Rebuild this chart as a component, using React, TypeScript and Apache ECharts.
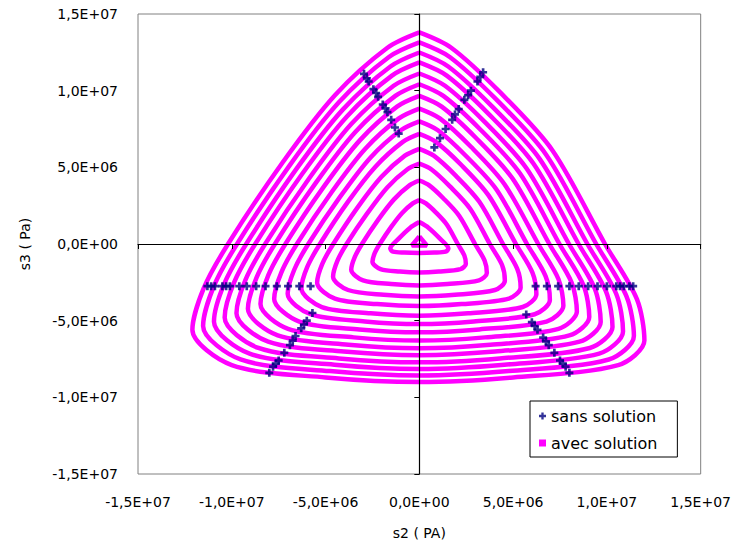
import React, { useEffect, useRef } from "react";
import * as echarts from "echarts";

// values are in units of 1e6 Pa
const UNIT = 1e6;
const AXIS_MIN = -15;
const AXIS_MAX = 15;
const AXIS_STEP = 5;

const MAGENTA = "#ff00ff";
const NAVY = "#000080";
const FONT = "DejaVu Sans";
const PLUS = "path://M3,0H6V3H9V6H6V9H3V6H0V3H3Z";

// "avec solution" contours (s2, s3), innermost first
const ring0 = [[0, 0.5], [0.4, -0.1], [-0.4, -0.1], [0, 0.5]];
const ring1 = [[0, 1.43], [0.5, 1.05], [1.1, 0.35], [1.55, -0.3], [1.4, -0.5], [0.8, -0.56], [0, -0.58], [-0.8, -0.56], [-1.4, -0.5], [-1.55, -0.3], [-1.1, 0.35], [-0.5, 1.05], [0, 1.43]];
const ring2 = [[0, 2.86], [0.35, 2.65], [0.89, 2.05], [1.47, 1.26], [2.05, 0], [2.4, -0.75], [2.48, -1.3], [2.19, -1.64], [1.04, -1.8], [0, -1.86], [-1.04, -1.8], [-2.07, -1.64], [-2.5, -1.16], [-2.38, -0.6], [-2.11, 0], [-1.51, 1.1], [-0.93, 2.01], [-0.35, 2.65], [0, 2.86]];
const ring3 = [[0, 4.14], [0.51, 3.84], [1.29, 2.97], [2.13, 1.83], [2.97, 0], [3.48, -1.08], [3.6, -1.89], [3.18, -2.37], [1.5, -2.61], [0, -2.7], [-1.5, -2.61], [-3.0, -2.37], [-3.63, -1.68], [-3.45, -0.87], [-3.06, 0], [-2.19, 1.59], [-1.35, 2.91], [-0.51, 3.84], [0, 4.14]];
const ring4 = [[0, 5.24], [0.65, 4.86], [1.63, 3.76], [2.7, 2.32], [3.76, 0], [4.41, -1.37], [4.56, -2.39], [4.03, -3.0], [1.9, -3.31], [0, -3.42], [-1.9, -3.31], [-3.8, -3.0], [-4.6, -2.13], [-4.37, -1.1], [-3.88, 0], [-2.77, 2.01], [-1.71, 3.69], [-0.65, 4.86], [0, 5.24]];
const ring5 = [[0, 6.21], [0.77, 5.76], [1.94, 4.46], [3.2, 2.75], [4.46, 0], [5.22, -1.62], [5.4, -2.84], [4.77, -3.56], [2.25, -3.92], [0, -4.05], [-2.25, -3.92], [-4.5, -3.56], [-5.45, -2.52], [-5.18, -1.31], [-4.59, 0], [-3.29, 2.39], [-2.03, 4.37], [-0.77, 5.76], [0, 6.21]];
const ring6 = [[0, 7.18], [0.88, 6.66], [2.24, 5.15], [3.69, 3.17], [5.15, 0], [6.03, -1.87], [6.24, -3.28], [5.51, -4.11], [2.6, -4.52], [0, -4.68], [-2.6, -4.52], [-5.2, -4.11], [-6.29, -2.91], [-5.98, -1.51], [-5.3, 0], [-3.8, 2.76], [-2.34, 5.04], [-0.88, 6.66], [0, 7.18]];
const ring7 = [[0, 8.0], [0.99, 7.42], [2.49, 5.74], [4.12, 3.54], [5.74, 0], [6.73, -2.09], [6.96, -3.65], [6.15, -4.58], [2.9, -5.05], [0, -5.22], [-2.9, -5.05], [-5.8, -4.58], [-7.02, -3.25], [-6.67, -1.68], [-5.92, 0], [-4.23, 3.07], [-2.61, 5.63], [-0.99, 7.42], [0, 8.0]];
const ring8 = [[0, 8.83], [1.09, 8.19], [2.75, 6.34], [4.54, 3.9], [6.34, 0], [7.42, -2.3], [7.68, -4.03], [6.78, -5.06], [3.2, -5.57], [0, -5.76], [-3.2, -5.57], [-6.4, -5.06], [-7.74, -3.58], [-7.36, -1.86], [-6.53, 0], [-4.67, 3.39], [-2.88, 6.21], [-1.09, 8.19], [0, 8.83]];
const ring9 = [[0, 9.66], [1.19, 8.96], [3.01, 6.93], [4.97, 4.27], [6.93, 0], [8.12, -2.52], [8.4, -4.41], [7.42, -5.53], [3.5, -6.09], [0, -6.3], [-3.5, -6.09], [-7.0, -5.53], [-8.47, -3.92], [-8.05, -2.03], [-7.14, 0], [-5.11, 3.71], [-3.15, 6.79], [-1.19, 8.96], [0, 9.66]];
const ring10 = [[0, 10.42], [1.28, 9.66], [3.25, 7.47], [5.36, 4.61], [7.47, 0], [8.76, -2.72], [9.06, -4.76], [8.0, -5.96], [3.78, -6.57], [0, -6.8], [-3.78, -6.57], [-7.55, -5.96], [-9.14, -4.23], [-8.68, -2.19], [-7.7, 0], [-5.51, 4.0], [-3.4, 7.32], [-1.28, 9.66], [0, 10.42]];
const ring11 = [[0, 11.12], [1.37, 10.32], [3.47, 7.98], [5.72, 4.92], [7.98, 0], [9.35, -2.9], [9.67, -5.08], [8.54, -6.37], [4.03, -7.01], [0, -7.25], [-4.03, -7.01], [-8.06, -6.37], [-9.75, -4.51], [-9.27, -2.34], [-8.22, 0], [-5.88, 4.27], [-3.63, 7.82], [-1.37, 10.32], [0, 11.12]];
const ring12 = [[0, 11.84], [1.46, 10.98], [3.69, 8.49], [6.09, 5.23], [8.49, 0], [9.95, -3.09], [10.3, -5.41], [9.09, -6.78], [4.29, -7.46], [0, -7.72], [-4.29, -7.46], [-8.58, -6.78], [-10.38, -4.8], [-9.87, -2.49], [-8.75, 0], [-6.26, 4.55], [-3.86, 8.32], [-1.46, 10.98], [0, 11.84]];
const ring13 = [[0, 12.49], [1.54, 11.58], [3.89, 8.96], [6.43, 5.52], [8.96, 0], [10.5, -3.26], [10.86, -5.7], [9.59, -7.15], [4.53, -7.87], [0, -8.15], [-4.53, -7.87], [-9.05, -7.15], [-10.95, -5.07], [-10.41, -2.62], [-9.23, 0], [-6.61, 4.8], [-4.07, 8.78], [-1.54, 11.58], [0, 12.49]];
const ring14 = [[0, 13.15], [1.62, 12.2], [4.1, 9.43], [6.77, 5.81], [9.43, 0], [11.05, -3.43], [11.44, -6.0], [10.1, -7.53], [4.77, -8.29], [0, -8.58], [-4.77, -8.29], [-9.53, -7.53], [-11.53, -5.34], [-10.96, -2.76], [-9.72, 0], [-6.96, 5.05], [-4.29, 9.24], [-1.62, 12.2], [0, 13.15]];
const ring15 = [[0, 13.8], [1.7, 12.8], [4.3, 9.9], [7.1, 6.1], [9.9, 0], [11.6, -3.6], [12.0, -6.3], [10.6, -7.9], [5.0, -8.7], [0, -9.0], [-5.0, -8.7], [-10.0, -7.9], [-12.1, -5.6], [-11.5, -2.9], [-10.2, 0], [-7.3, 5.3], [-4.5, 9.7], [-1.7, 12.8], [0, 13.8]];

const avecRings = [ring0, ring1, ring2, ring3, ring4, ring5, ring6, ring7, ring8, ring9, ring10, ring11, ring12, ring13, ring14, ring15];

// "sans solution" points (s2, s3)
const sansTopLeft = [[-2.95, 11.1], [-2.8, 10.8], [-2.7, 10.6], [-2.45, 10.1], [-2.3, 9.85], [-2.2, 9.6], [-1.95, 9.1], [-1.8, 8.85], [-1.7, 8.6], [-1.5, 8.1], [-1.3, 7.6], [-1.1, 7.2]];
const sansTopRight = [[3.4, 11.2], [3.25, 10.9], [3.1, 10.6], [2.75, 10.0], [2.6, 9.7], [2.4, 9.4], [2.1, 8.8], [1.9, 8.45], [1.75, 8.1], [1.4, 7.5], [1.1, 6.9], [0.8, 6.3]];
const sansLeft = [[-11.3, -2.75], [-11.1, -2.75], [-10.9, -2.75], [-10.5, -2.75], [-10.3, -2.75], [-10.1, -2.75], [-9.6, -2.75], [-9.2, -2.75], [-8.7, -2.75], [-8.2, -2.75], [-7.6, -2.75], [-7.0, -2.75], [-6.4, -2.75], [-5.8, -2.75]];
const sansRight = [[6.2, -2.75], [6.8, -2.75], [7.4, -2.75], [8.0, -2.75], [8.5, -2.75], [9.0, -2.75], [9.5, -2.75], [10.0, -2.75], [10.5, -2.75], [10.7, -2.75], [10.9, -2.75], [11.2, -2.75], [11.4, -2.75]];
const sansBottomLeft = [[-5.7, -4.5], [-6.0, -5.0], [-6.15, -5.25], [-6.3, -5.5], [-6.6, -6.0], [-6.75, -6.3], [-6.9, -6.6], [-7.2, -7.1], [-7.5, -7.6], [-7.65, -7.8], [-7.8, -8.0], [-8.0, -8.4]];
const sansBottomRight = [[5.7, -4.6], [6.0, -5.1], [6.15, -5.35], [6.3, -5.6], [6.6, -6.1], [6.75, -6.35], [6.9, -6.6], [7.2, -7.1], [7.5, -7.6], [7.65, -7.8], [7.8, -8.0], [8.0, -8.4]];

const sansPoints = [...sansTopLeft, ...sansTopRight, ...sansLeft, ...sansRight, ...sansBottomLeft, ...sansBottomRight];

function sci(v: number): string {
  const val = v * UNIT;
  if (Math.abs(val) < 1e-6) return "0,0E+00";
  const e = Math.floor(Math.log10(Math.abs(val)) + 1e-9);
  const m = val / Math.pow(10, e);
  return m.toFixed(1).replace(".", ",") + "E+" + String(e).padStart(2, "0");
}

export default function App() {
  const ref = useRef<HTMLDivElement>(null);
  useEffect(() => {
    if (!ref.current) return;
    const chart = echarts.init(ref.current, undefined, { renderer: "svg" });
    const labelStyle = { fontFamily: FONT, fontSize: 14, color: "#000" };
    const series: any[] = avecRings.map((r) => ({
      type: "line",
      name: "avec solution",
      data: r,
      smooth: 0.3,
      symbol: "none",
      showSymbol: false,
      lineStyle: { color: MAGENTA, width: 4.5 },
      itemStyle: { color: MAGENTA },
      silent: true,
      z: 2,
    }));
    series.push({
      type: "scatter",
      name: "sans solution",
      data: sansPoints,
      symbol: PLUS,
      symbolSize: 8,
      itemStyle: { color: NAVY },
      z: 4,
    });
    chart.setOption({
      animation: false,
      backgroundColor: "#fff",
      grid: {
        left: 138,
        top: 14,
        width: 564,
        height: 460,
        show: true,
        borderColor: "#808080",
        borderWidth: 1,
        backgroundColor: "transparent",
      },
      legend: {
        left: 530,
        top: 401,
        orient: "vertical",
        backgroundColor: "#fff",
        borderColor: "#000",
        borderWidth: 1,
        borderRadius: 0,
        padding: [7, 20, 6, 9],
        itemGap: 11,
        itemWidth: 7,
        itemHeight: 7,
        textStyle: { fontFamily: FONT, fontSize: 16, color: "#000" },
        data: [
          { name: "sans solution", icon: PLUS },
          { name: "avec solution", icon: "rect" },
        ],
        selectedMode: false,
        z: 10,
      },
      xAxis: [
        {
          type: "value",
          min: AXIS_MIN,
          max: AXIS_MAX,
          interval: AXIS_STEP,
          position: "bottom",
          axisLine: { show: false, onZero: false },
          axisTick: { show: false },
          splitLine: { show: false },
          axisLabel: { ...labelStyle, margin: 21, formatter: sci },
          name: "s2 ( PA)",
          nameLocation: "middle",
          nameGap: 52,
          nameTextStyle: labelStyle,
        },
        {
          type: "value",
          min: AXIS_MIN,
          max: AXIS_MAX,
          interval: AXIS_STEP,
          position: "bottom",
          axisLine: { show: true, onZero: true, onZeroAxisIndex: 0, lineStyle: { color: "#000", width: 1.2 } },
          axisTick: { show: true, length: 5, lineStyle: { color: "#000" } },
          axisLabel: { show: false },
          splitLine: { show: false },
          z: 5,
        },
      ],
      yAxis: [
        {
          type: "value",
          min: AXIS_MIN,
          max: AXIS_MAX,
          interval: AXIS_STEP,
          position: "left",
          axisLine: { show: false, onZero: false },
          axisTick: { show: false },
          splitLine: { show: false },
          axisLabel: { ...labelStyle, margin: 20, formatter: sci },
          name: "s3 ( Pa)",
          nameLocation: "middle",
          nameGap: 106,
          nameRotate: 90,
          nameTextStyle: labelStyle,
        },
        {
          type: "value",
          min: AXIS_MIN,
          max: AXIS_MAX,
          interval: AXIS_STEP,
          position: "left",
          axisLine: { show: true, onZero: true, onZeroAxisIndex: 0, lineStyle: { color: "#000", width: 1.2 } },
          axisTick: { show: true, length: 5, lineStyle: { color: "#000" } },
          axisLabel: { show: false },
          splitLine: { show: false },
          z: 5,
        },
      ],
      series,
    });
    return () => chart.dispose();
  }, []);
  return (
    <div
      ref={ref}
      style={{ position: "fixed", left: 0, top: 0, width: 734, height: 546 }}
    />
  );
}
